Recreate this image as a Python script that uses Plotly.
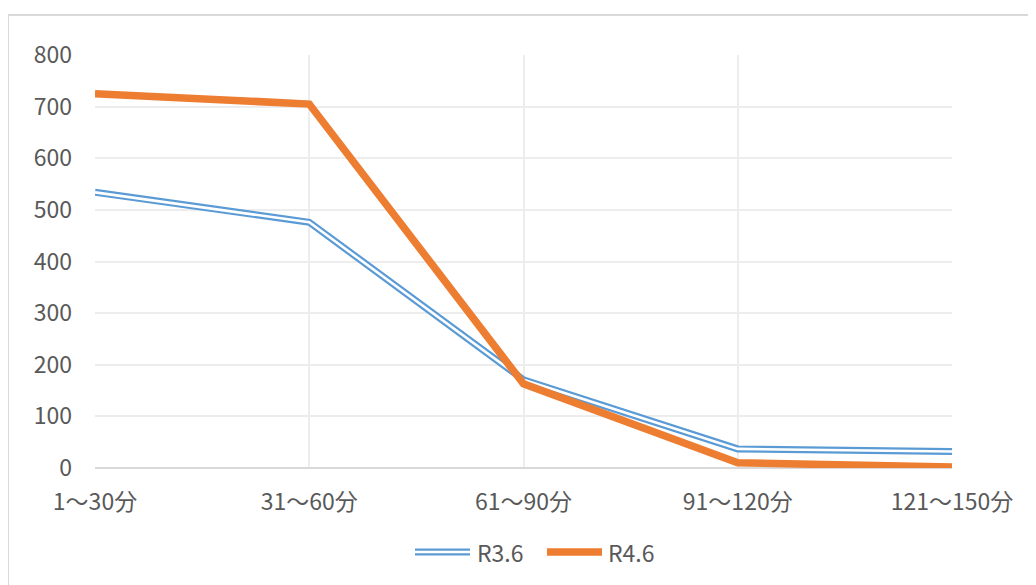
import plotly.graph_objects as go

categories = ["1～30分", "31～60分", "61～90分", "91～120分", "121～150分"]
r36_values = [534, 476, 171, 37, 32]
r46_values = [725, 705, 163, 10, 2]
y_ticks = [0, 100, 200, 300, 400, 500, 600, 700, 800]

BLUE = "#5B9BD5"
ORANGE = "#ED7D31"
TEXT = "#595959"
FONT = "Noto Sans CJK JP"
FS = 23

W, H = 1036, 585
OFF = 8  # page offset of the plot div in the browser
# plot area in window pixels
PL, PR, PT, PB = 95, 952, 55, 468
PW, PH = PR - PL, PB - PT


def px_x(p):
    return (p - PL) / PW


def px_y(p):
    return (PB - p) / PH


fig = go.Figure()
# R3.6: double line (blue outer, white inner)
fig.add_trace(go.Scatter(x=categories, y=r36_values, mode="lines", name="R3.6",
                         line=dict(color=BLUE, width=7), showlegend=False,
                         hoverinfo="skip"))
fig.add_trace(go.Scatter(x=categories, y=r36_values, mode="lines", name="R3.6",
                         line=dict(color="white", width=2.6), showlegend=False))
# R4.6
fig.add_trace(go.Scatter(x=categories, y=r46_values, mode="lines", name="R4.6",
                         line=dict(color=ORANGE, width=7.5), showlegend=False))

shapes = []
# chart border
shapes.append(dict(type="rect", xref="paper", yref="paper",
                   x0=px_x(8), x1=px_x(1150), y0=px_y(700), y1=px_y(15),
                   line=dict(color="#D9D9D9", width=2), fillcolor="rgba(0,0,0,0)",
                   layer="below"))
# manual legend
ly = px_y(552)
shapes.append(dict(type="line", xref="paper", yref="paper",
                   x0=px_x(415), x1=px_x(470), y0=ly, y1=ly,
                   line=dict(color=BLUE, width=7)))
shapes.append(dict(type="line", xref="paper", yref="paper",
                   x0=px_x(415), x1=px_x(470), y0=ly, y1=ly,
                   line=dict(color="white", width=2.6)))
shapes.append(dict(type="line", xref="paper", yref="paper",
                   x0=px_x(547), x1=px_x(602), y0=ly, y1=ly,
                   line=dict(color=ORANGE, width=7.5)))

annotations = [
    dict(text="R3.6", xref="paper", yref="paper", x=px_x(475), y=ly,
         xanchor="left", yanchor="middle", showarrow=False,
         font=dict(family=FONT, size=FS, color=TEXT)),
    dict(text="R4.6", xref="paper", yref="paper", x=px_x(606), y=ly,
         xanchor="left", yanchor="middle", showarrow=False,
         font=dict(family=FONT, size=FS, color=TEXT)),
]

fig.update_layout(
    width=W, height=H,
    margin=dict(l=PL - OFF, r=W - (PR - OFF), t=PT - OFF, b=H - (PB - OFF)),
    paper_bgcolor="white", plot_bgcolor="white",
    font=dict(family=FONT, size=FS, color=TEXT),
    shapes=shapes, annotations=annotations,
    showlegend=False,
)
fig.update_xaxes(type="category", range=[0, len(categories) - 1],
                 showgrid=True, gridcolor="#EDEDED", gridwidth=1.6,
                 showline=False, zeroline=False, ticks="",
                 ticklabelstandoff=18, automargin=False,
                 tickfont=dict(family=FONT, size=FS, color=TEXT))
fig.update_yaxes(range=[0, 800], tickvals=y_ticks,
                 showgrid=True, gridcolor="#EDEDED", gridwidth=1.6,
                 zeroline=True, zerolinecolor="#D9D9D9", zerolinewidth=1.6,
                 showline=False, ticks="", ticklabelstandoff=22, automargin=False,
                 tickfont=dict(family=FONT, size=FS, color=TEXT))

fig.write_html("out.html")
